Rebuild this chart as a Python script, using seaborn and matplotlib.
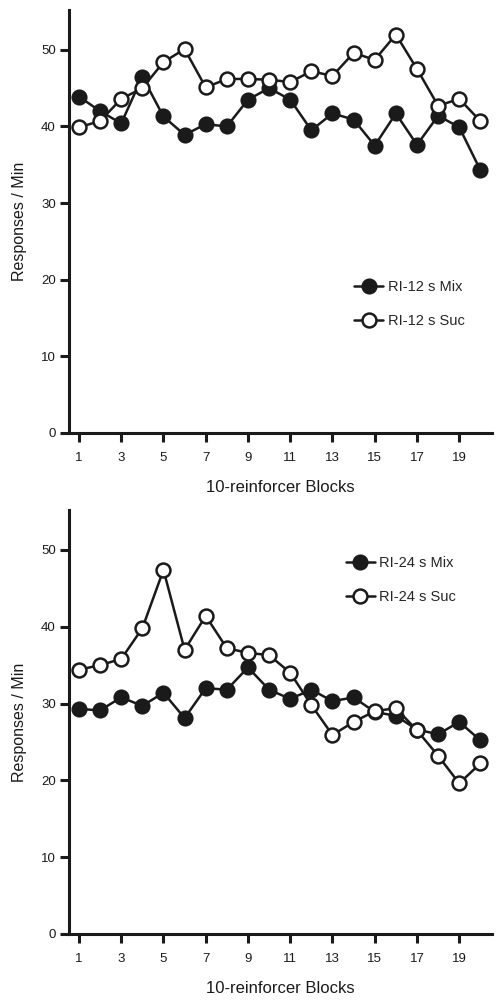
import matplotlib
matplotlib.use("Agg")
import matplotlib.pyplot as plt
import seaborn as sns
import pandas as pd

blocks = list(range(1, 21))
ri12_mix = [43.9, 42.0, 40.4, 46.5, 41.3, 38.9, 40.3, 40.0, 43.5, 45.0,
            43.5, 39.5, 41.7, 40.9, 37.5, 41.7, 37.6, 41.4, 39.9, 34.3]
ri12_suc = [39.9, 40.7, 43.6, 45.0, 48.4, 50.1, 45.1, 46.2, 46.2, 46.1,
            45.8, 47.2, 46.6, 49.6, 48.7, 52.0, 47.5, 42.7, 43.6, 40.7]
ri24_mix = [29.3, 29.1, 30.8, 29.7, 31.4, 28.1, 32.0, 31.8, 34.7, 31.8,
            30.6, 31.8, 30.3, 30.8, 28.9, 28.4, 26.6, 26.0, 27.6, 25.2]
ri24_suc = [34.4, 35.0, 35.8, 39.8, 47.4, 37.0, 41.4, 37.2, 36.6, 36.3,
            34.0, 29.8, 25.9, 27.6, 29.0, 29.4, 26.5, 23.2, 19.6, 22.2]
xticks = [1, 3, 5, 7, 9, 11, 13, 15, 17, 19]
yticks = [0, 10, 20, 30, 40, 50]

sns.set_theme(style="ticks")
plt.rcParams['font.family'] = ['Liberation Sans', 'DejaVu Sans']

fig = plt.figure(figsize=(5.02, 10.02), dpi=100)
ax1 = fig.add_axes([0.1375, 0.568, 0.843, 0.422])
ax2 = fig.add_axes([0.1375, 0.068, 0.843, 0.423])

panels = [
    (ax1, ri12_mix, ri12_suc, "RI-12 s Mix", "RI-12 s Suc", (0.66, 0.375)),
    (ax2, ri24_mix, ri24_suc, "RI-24 s Mix", "RI-24 s Suc", (0.64, 0.905)),
]

for ax, mix, suc, lab_m, lab_s, loc in panels:
    df_m = pd.DataFrame({"block": blocks, "rate": mix})
    df_s = pd.DataFrame({"block": blocks, "rate": suc})
    sns.lineplot(data=df_m, x="block", y="rate", ax=ax, color="#1a1a1a",
                 marker="o", markersize=10, markerfacecolor="#1a1a1a",
                 markeredgecolor="#1a1a1a", markeredgewidth=1.6,
                 linewidth=1.8, label=lab_m)
    sns.lineplot(data=df_s, x="block", y="rate", ax=ax, color="#1a1a1a",
                 marker="o", markersize=10, markerfacecolor="white",
                 markeredgecolor="#1a1a1a", markeredgewidth=1.8,
                 linewidth=1.8, label=lab_s)
    ax.set_xlim(0.53, 20.56)
    ax.set_ylim(0, 55.2)
    ax.set_xticks(xticks)
    ax.set_yticks(yticks)
    ax.set_xlabel("10-reinforcer Blocks", fontsize=12, labelpad=12, color="#1a1a1a")
    ax.set_ylabel("Responses / Min", fontsize=11.5, labelpad=10, color="#1a1a1a")
    for s in ["top", "right"]:
        ax.spines[s].set_visible(False)
    for s in ["left", "bottom"]:
        ax.spines[s].set_linewidth(2.2)
        ax.spines[s].set_color("#1a1a1a")
    ax.tick_params(axis="both", direction="out", length=6.5, width=2.2,
                   color="#1a1a1a", labelsize=9.5, labelcolor="#1a1a1a")
    ax.tick_params(axis="x", pad=7)
    ax.tick_params(axis="y", pad=3)
    ax.legend(loc="upper left", bbox_to_anchor=loc, frameon=False,
              fontsize=10.5, handlelength=2.0, handletextpad=0.3,
              labelspacing=1.35, borderaxespad=0)

fig.savefig("out.png", dpi=100)
